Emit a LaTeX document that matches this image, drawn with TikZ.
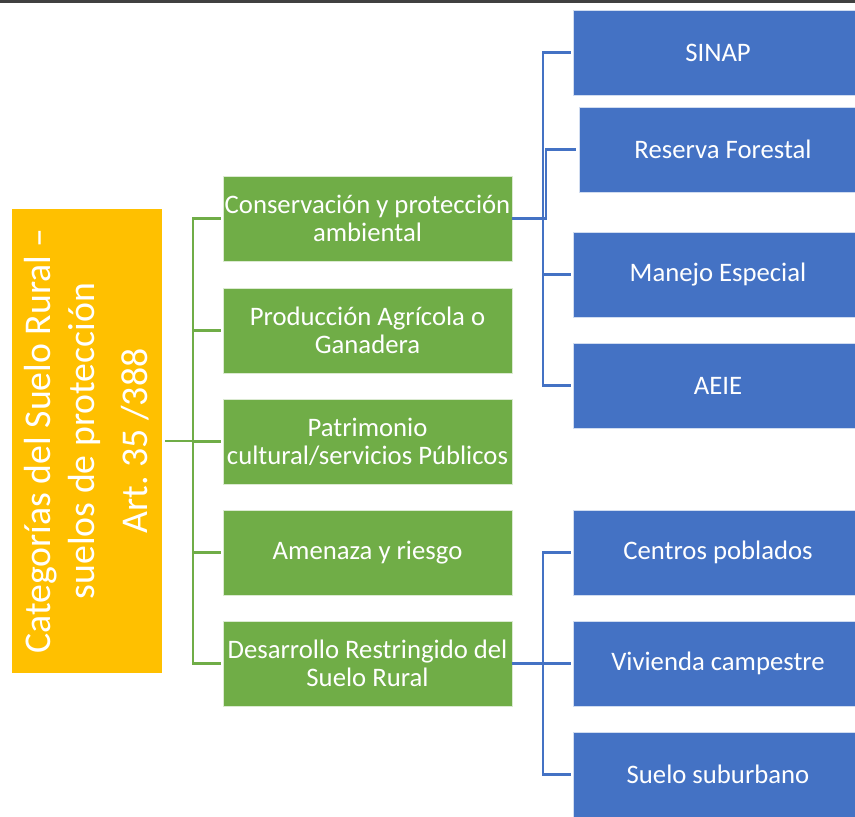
\documentclass[tikz,border=0pt]{standalone}
\usepackage{fontspec}
\setmainfont{Carlito}
\definecolor{ogreen}{HTML}{70AD47}
\definecolor{oblue}{HTML}{4472C4}
\definecolor{oyellow}{HTML}{FFC000}
\tikzset{
  greenbox/.style={fill=ogreen, draw=white!75!ogreen, line width=0.5pt, text=white, align=center,
    minimum width=5.78cm, minimum height=1.7cm, inner sep=0pt, font=\fontsize{15.2}{16}\selectfont},
  bluebox/.style={fill=oblue, draw=white!75!oblue, line width=0.5pt, text=white, align=center,
    minimum width=5.8cm, minimum height=1.7cm, inner sep=0pt, font=\fontsize{15.2}{16}\selectfont},
  glink/.style={draw=ogreen, line width=1.6pt},
  blink/.style={draw=oblue, line width=1.6pt},
}
\begin{document}
\begin{tikzpicture}[x=0.02cm, y=-0.02cm]
\useasboundingbox (0,0) rectangle (855,817);
\fill[black!75] (0,0) rectangle (855,3); % top strip
% main category
\node[fill=oyellow, rotate=90, text=white, align=center, minimum width=9.28cm, minimum height=3cm, inner sep=0pt,
  font=\fontsize{21.5}{25}\selectfont] (cat) at (87,441)
  {Categorías del Suelo Rural –\\suelos de protección\\[5pt]Art.\ 35 /388};
% green column
\node[greenbox] (cons) at (367.5,218.5) {Conservación y protección\\ambiental};
\node[greenbox] (prod) at (367.5,330.5) {Producción Agrícola o\\Ganadera};
\node[greenbox] (patr) at (367.5,441.5) {Patrimonio\\cultural/servicios Públicos};
\node[greenbox] (amen) at (367.5,552.5) {Amenaza y riesgo};
\node[greenbox] (desa) at (367.5,663.5) {Desarrollo Restringido del\\Suelo Rural};
% blue column (cut by the right edge)
\node[bluebox] (sinap) at (718,52.5) {SINAP};
\node[bluebox, minimum width=5.76cm] (resf) at (723,149.5) {Reserva Forestal};
\node[bluebox] (mane) at (718,274.5) {Manejo Especial};
\node[bluebox] (aeie) at (718,385.5) {AEIE};
\node[bluebox] (cent) at (718,552.5) {Centros poblados};
\node[bluebox] (vivi) at (718,663.5) {Vivienda campestre};
\node[bluebox] (subu) at (718,774.5) {Suelo suburbano};
% connectors
\coordinate (gsplit) at (193,441);
\coordinate (bsplit) at (543,218.5);
\coordinate (bsplitr) at (546,218.5);
\coordinate (dsplit) at (543,663.5);
\draw[glink] ([xshift=0.06cm]cat.south) -- (gsplit);
\foreach \n in {cons,prod,patr,amen,desa}
  \draw[glink] (gsplit) |- ([xshift=-0.04cm]\n.west);
\draw[blink] (cons.east) -- (bsplit);
\foreach \n in {sinap,mane,aeie}
  \draw[blink] (bsplit) |- ([xshift=-0.04cm]\n.west);
\draw[blink] (bsplit) -- (bsplitr) |- ([xshift=-0.06cm]resf.west);
\draw[blink] (desa.east) -- (dsplit);
\foreach \n in {cent,vivi,subu}
  \draw[blink] (dsplit) |- ([xshift=-0.04cm]\n.west);
\end{tikzpicture}
\end{document}
